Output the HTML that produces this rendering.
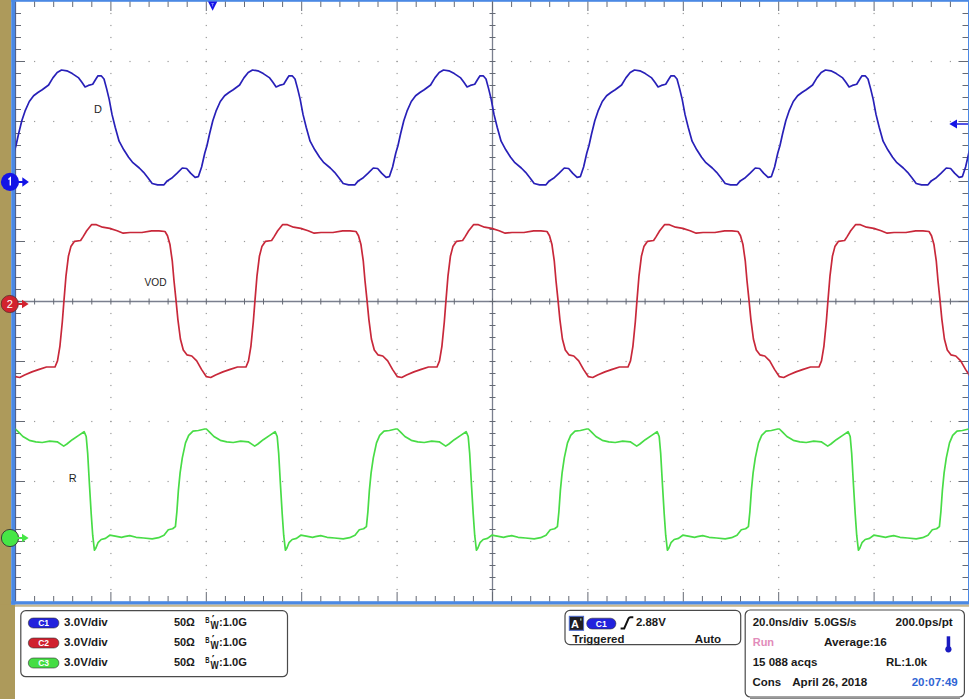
<!DOCTYPE html>
<html><head><meta charset="utf-8"><style>
html,body{margin:0;padding:0;background:#fff;}
body{width:969px;height:699px;overflow:hidden;position:relative;font-family:"Liberation Sans",sans-serif;}
svg{position:absolute;left:0;top:0;}
</style></head><body>
<svg width="969" height="699" viewBox="0 0 969 699">
<rect x="0" y="0" width="969" height="699" fill="#fff"/>
<!-- left olive bar -->
<rect x="0" y="0" width="11.2" height="699" fill="#ad9a5b"/>
<rect x="0" y="604.6" width="15" height="95" fill="#ad9a5b"/>
<!-- borders -->
<rect x="11.2" y="0" width="4.3" height="604.6" fill="#4b89e4"/>
<rect x="11.2" y="0" width="958" height="1.8" fill="#4b89e4"/>
<rect x="11.2" y="601.2" width="958" height="3.5" fill="#4b89e4"/>
<rect x="15" y="604.6" width="954" height="2.2" fill="#c8b890"/>
<rect x="968" y="0" width="2" height="604" fill="#4b89e4"/>
<!-- grid -->
<g fill="#9a9a9a"><rect x="110.3" y="12.9" width="1.2" height="1.2"/><rect x="110.3" y="24.9" width="1.2" height="1.2"/><rect x="110.3" y="36.9" width="1.2" height="1.2"/><rect x="110.3" y="48.9" width="1.2" height="1.2"/><rect x="110.3" y="60.9" width="1.2" height="1.2"/><rect x="110.3" y="72.9" width="1.2" height="1.2"/><rect x="110.3" y="84.9" width="1.2" height="1.2"/><rect x="110.3" y="96.9" width="1.2" height="1.2"/><rect x="110.3" y="108.9" width="1.2" height="1.2"/><rect x="110.3" y="120.9" width="1.2" height="1.2"/><rect x="110.3" y="132.9" width="1.2" height="1.2"/><rect x="110.3" y="144.9" width="1.2" height="1.2"/><rect x="110.3" y="156.9" width="1.2" height="1.2"/><rect x="110.3" y="168.9" width="1.2" height="1.2"/><rect x="110.3" y="180.9" width="1.2" height="1.2"/><rect x="110.3" y="192.9" width="1.2" height="1.2"/><rect x="110.3" y="204.9" width="1.2" height="1.2"/><rect x="110.3" y="216.9" width="1.2" height="1.2"/><rect x="110.3" y="228.9" width="1.2" height="1.2"/><rect x="110.3" y="240.9" width="1.2" height="1.2"/><rect x="110.3" y="252.9" width="1.2" height="1.2"/><rect x="110.3" y="264.9" width="1.2" height="1.2"/><rect x="110.3" y="276.9" width="1.2" height="1.2"/><rect x="110.3" y="288.9" width="1.2" height="1.2"/><rect x="110.3" y="300.9" width="1.2" height="1.2"/><rect x="110.3" y="312.9" width="1.2" height="1.2"/><rect x="110.3" y="324.9" width="1.2" height="1.2"/><rect x="110.3" y="336.9" width="1.2" height="1.2"/><rect x="110.3" y="348.9" width="1.2" height="1.2"/><rect x="110.3" y="360.9" width="1.2" height="1.2"/><rect x="110.3" y="372.9" width="1.2" height="1.2"/><rect x="110.3" y="384.9" width="1.2" height="1.2"/><rect x="110.3" y="396.9" width="1.2" height="1.2"/><rect x="110.3" y="408.9" width="1.2" height="1.2"/><rect x="110.3" y="420.9" width="1.2" height="1.2"/><rect x="110.3" y="432.9" width="1.2" height="1.2"/><rect x="110.3" y="444.9" width="1.2" height="1.2"/><rect x="110.3" y="456.9" width="1.2" height="1.2"/><rect x="110.3" y="468.9" width="1.2" height="1.2"/><rect x="110.3" y="480.9" width="1.2" height="1.2"/><rect x="110.3" y="492.9" width="1.2" height="1.2"/><rect x="110.3" y="504.9" width="1.2" height="1.2"/><rect x="110.3" y="516.9" width="1.2" height="1.2"/><rect x="110.3" y="528.9" width="1.2" height="1.2"/><rect x="110.3" y="540.9" width="1.2" height="1.2"/><rect x="110.3" y="552.9" width="1.2" height="1.2"/><rect x="110.3" y="564.9" width="1.2" height="1.2"/><rect x="110.3" y="576.9" width="1.2" height="1.2"/><rect x="110.3" y="588.9" width="1.2" height="1.2"/><rect x="205.7" y="12.9" width="1.2" height="1.2"/><rect x="205.7" y="24.9" width="1.2" height="1.2"/><rect x="205.7" y="36.9" width="1.2" height="1.2"/><rect x="205.7" y="48.9" width="1.2" height="1.2"/><rect x="205.7" y="60.9" width="1.2" height="1.2"/><rect x="205.7" y="72.9" width="1.2" height="1.2"/><rect x="205.7" y="84.9" width="1.2" height="1.2"/><rect x="205.7" y="96.9" width="1.2" height="1.2"/><rect x="205.7" y="108.9" width="1.2" height="1.2"/><rect x="205.7" y="120.9" width="1.2" height="1.2"/><rect x="205.7" y="132.9" width="1.2" height="1.2"/><rect x="205.7" y="144.9" width="1.2" height="1.2"/><rect x="205.7" y="156.9" width="1.2" height="1.2"/><rect x="205.7" y="168.9" width="1.2" height="1.2"/><rect x="205.7" y="180.9" width="1.2" height="1.2"/><rect x="205.7" y="192.9" width="1.2" height="1.2"/><rect x="205.7" y="204.9" width="1.2" height="1.2"/><rect x="205.7" y="216.9" width="1.2" height="1.2"/><rect x="205.7" y="228.9" width="1.2" height="1.2"/><rect x="205.7" y="240.9" width="1.2" height="1.2"/><rect x="205.7" y="252.9" width="1.2" height="1.2"/><rect x="205.7" y="264.9" width="1.2" height="1.2"/><rect x="205.7" y="276.9" width="1.2" height="1.2"/><rect x="205.7" y="288.9" width="1.2" height="1.2"/><rect x="205.7" y="300.9" width="1.2" height="1.2"/><rect x="205.7" y="312.9" width="1.2" height="1.2"/><rect x="205.7" y="324.9" width="1.2" height="1.2"/><rect x="205.7" y="336.9" width="1.2" height="1.2"/><rect x="205.7" y="348.9" width="1.2" height="1.2"/><rect x="205.7" y="360.9" width="1.2" height="1.2"/><rect x="205.7" y="372.9" width="1.2" height="1.2"/><rect x="205.7" y="384.9" width="1.2" height="1.2"/><rect x="205.7" y="396.9" width="1.2" height="1.2"/><rect x="205.7" y="408.9" width="1.2" height="1.2"/><rect x="205.7" y="420.9" width="1.2" height="1.2"/><rect x="205.7" y="432.9" width="1.2" height="1.2"/><rect x="205.7" y="444.9" width="1.2" height="1.2"/><rect x="205.7" y="456.9" width="1.2" height="1.2"/><rect x="205.7" y="468.9" width="1.2" height="1.2"/><rect x="205.7" y="480.9" width="1.2" height="1.2"/><rect x="205.7" y="492.9" width="1.2" height="1.2"/><rect x="205.7" y="504.9" width="1.2" height="1.2"/><rect x="205.7" y="516.9" width="1.2" height="1.2"/><rect x="205.7" y="528.9" width="1.2" height="1.2"/><rect x="205.7" y="540.9" width="1.2" height="1.2"/><rect x="205.7" y="552.9" width="1.2" height="1.2"/><rect x="205.7" y="564.9" width="1.2" height="1.2"/><rect x="205.7" y="576.9" width="1.2" height="1.2"/><rect x="205.7" y="588.9" width="1.2" height="1.2"/><rect x="301.1" y="12.9" width="1.2" height="1.2"/><rect x="301.1" y="24.9" width="1.2" height="1.2"/><rect x="301.1" y="36.9" width="1.2" height="1.2"/><rect x="301.1" y="48.9" width="1.2" height="1.2"/><rect x="301.1" y="60.9" width="1.2" height="1.2"/><rect x="301.1" y="72.9" width="1.2" height="1.2"/><rect x="301.1" y="84.9" width="1.2" height="1.2"/><rect x="301.1" y="96.9" width="1.2" height="1.2"/><rect x="301.1" y="108.9" width="1.2" height="1.2"/><rect x="301.1" y="120.9" width="1.2" height="1.2"/><rect x="301.1" y="132.9" width="1.2" height="1.2"/><rect x="301.1" y="144.9" width="1.2" height="1.2"/><rect x="301.1" y="156.9" width="1.2" height="1.2"/><rect x="301.1" y="168.9" width="1.2" height="1.2"/><rect x="301.1" y="180.9" width="1.2" height="1.2"/><rect x="301.1" y="192.9" width="1.2" height="1.2"/><rect x="301.1" y="204.9" width="1.2" height="1.2"/><rect x="301.1" y="216.9" width="1.2" height="1.2"/><rect x="301.1" y="228.9" width="1.2" height="1.2"/><rect x="301.1" y="240.9" width="1.2" height="1.2"/><rect x="301.1" y="252.9" width="1.2" height="1.2"/><rect x="301.1" y="264.9" width="1.2" height="1.2"/><rect x="301.1" y="276.9" width="1.2" height="1.2"/><rect x="301.1" y="288.9" width="1.2" height="1.2"/><rect x="301.1" y="300.9" width="1.2" height="1.2"/><rect x="301.1" y="312.9" width="1.2" height="1.2"/><rect x="301.1" y="324.9" width="1.2" height="1.2"/><rect x="301.1" y="336.9" width="1.2" height="1.2"/><rect x="301.1" y="348.9" width="1.2" height="1.2"/><rect x="301.1" y="360.9" width="1.2" height="1.2"/><rect x="301.1" y="372.9" width="1.2" height="1.2"/><rect x="301.1" y="384.9" width="1.2" height="1.2"/><rect x="301.1" y="396.9" width="1.2" height="1.2"/><rect x="301.1" y="408.9" width="1.2" height="1.2"/><rect x="301.1" y="420.9" width="1.2" height="1.2"/><rect x="301.1" y="432.9" width="1.2" height="1.2"/><rect x="301.1" y="444.9" width="1.2" height="1.2"/><rect x="301.1" y="456.9" width="1.2" height="1.2"/><rect x="301.1" y="468.9" width="1.2" height="1.2"/><rect x="301.1" y="480.9" width="1.2" height="1.2"/><rect x="301.1" y="492.9" width="1.2" height="1.2"/><rect x="301.1" y="504.9" width="1.2" height="1.2"/><rect x="301.1" y="516.9" width="1.2" height="1.2"/><rect x="301.1" y="528.9" width="1.2" height="1.2"/><rect x="301.1" y="540.9" width="1.2" height="1.2"/><rect x="301.1" y="552.9" width="1.2" height="1.2"/><rect x="301.1" y="564.9" width="1.2" height="1.2"/><rect x="301.1" y="576.9" width="1.2" height="1.2"/><rect x="301.1" y="588.9" width="1.2" height="1.2"/><rect x="396.5" y="12.9" width="1.2" height="1.2"/><rect x="396.5" y="24.9" width="1.2" height="1.2"/><rect x="396.5" y="36.9" width="1.2" height="1.2"/><rect x="396.5" y="48.9" width="1.2" height="1.2"/><rect x="396.5" y="60.9" width="1.2" height="1.2"/><rect x="396.5" y="72.9" width="1.2" height="1.2"/><rect x="396.5" y="84.9" width="1.2" height="1.2"/><rect x="396.5" y="96.9" width="1.2" height="1.2"/><rect x="396.5" y="108.9" width="1.2" height="1.2"/><rect x="396.5" y="120.9" width="1.2" height="1.2"/><rect x="396.5" y="132.9" width="1.2" height="1.2"/><rect x="396.5" y="144.9" width="1.2" height="1.2"/><rect x="396.5" y="156.9" width="1.2" height="1.2"/><rect x="396.5" y="168.9" width="1.2" height="1.2"/><rect x="396.5" y="180.9" width="1.2" height="1.2"/><rect x="396.5" y="192.9" width="1.2" height="1.2"/><rect x="396.5" y="204.9" width="1.2" height="1.2"/><rect x="396.5" y="216.9" width="1.2" height="1.2"/><rect x="396.5" y="228.9" width="1.2" height="1.2"/><rect x="396.5" y="240.9" width="1.2" height="1.2"/><rect x="396.5" y="252.9" width="1.2" height="1.2"/><rect x="396.5" y="264.9" width="1.2" height="1.2"/><rect x="396.5" y="276.9" width="1.2" height="1.2"/><rect x="396.5" y="288.9" width="1.2" height="1.2"/><rect x="396.5" y="300.9" width="1.2" height="1.2"/><rect x="396.5" y="312.9" width="1.2" height="1.2"/><rect x="396.5" y="324.9" width="1.2" height="1.2"/><rect x="396.5" y="336.9" width="1.2" height="1.2"/><rect x="396.5" y="348.9" width="1.2" height="1.2"/><rect x="396.5" y="360.9" width="1.2" height="1.2"/><rect x="396.5" y="372.9" width="1.2" height="1.2"/><rect x="396.5" y="384.9" width="1.2" height="1.2"/><rect x="396.5" y="396.9" width="1.2" height="1.2"/><rect x="396.5" y="408.9" width="1.2" height="1.2"/><rect x="396.5" y="420.9" width="1.2" height="1.2"/><rect x="396.5" y="432.9" width="1.2" height="1.2"/><rect x="396.5" y="444.9" width="1.2" height="1.2"/><rect x="396.5" y="456.9" width="1.2" height="1.2"/><rect x="396.5" y="468.9" width="1.2" height="1.2"/><rect x="396.5" y="480.9" width="1.2" height="1.2"/><rect x="396.5" y="492.9" width="1.2" height="1.2"/><rect x="396.5" y="504.9" width="1.2" height="1.2"/><rect x="396.5" y="516.9" width="1.2" height="1.2"/><rect x="396.5" y="528.9" width="1.2" height="1.2"/><rect x="396.5" y="540.9" width="1.2" height="1.2"/><rect x="396.5" y="552.9" width="1.2" height="1.2"/><rect x="396.5" y="564.9" width="1.2" height="1.2"/><rect x="396.5" y="576.9" width="1.2" height="1.2"/><rect x="396.5" y="588.9" width="1.2" height="1.2"/><rect x="587.3" y="12.9" width="1.2" height="1.2"/><rect x="587.3" y="24.9" width="1.2" height="1.2"/><rect x="587.3" y="36.9" width="1.2" height="1.2"/><rect x="587.3" y="48.9" width="1.2" height="1.2"/><rect x="587.3" y="60.9" width="1.2" height="1.2"/><rect x="587.3" y="72.9" width="1.2" height="1.2"/><rect x="587.3" y="84.9" width="1.2" height="1.2"/><rect x="587.3" y="96.9" width="1.2" height="1.2"/><rect x="587.3" y="108.9" width="1.2" height="1.2"/><rect x="587.3" y="120.9" width="1.2" height="1.2"/><rect x="587.3" y="132.9" width="1.2" height="1.2"/><rect x="587.3" y="144.9" width="1.2" height="1.2"/><rect x="587.3" y="156.9" width="1.2" height="1.2"/><rect x="587.3" y="168.9" width="1.2" height="1.2"/><rect x="587.3" y="180.9" width="1.2" height="1.2"/><rect x="587.3" y="192.9" width="1.2" height="1.2"/><rect x="587.3" y="204.9" width="1.2" height="1.2"/><rect x="587.3" y="216.9" width="1.2" height="1.2"/><rect x="587.3" y="228.9" width="1.2" height="1.2"/><rect x="587.3" y="240.9" width="1.2" height="1.2"/><rect x="587.3" y="252.9" width="1.2" height="1.2"/><rect x="587.3" y="264.9" width="1.2" height="1.2"/><rect x="587.3" y="276.9" width="1.2" height="1.2"/><rect x="587.3" y="288.9" width="1.2" height="1.2"/><rect x="587.3" y="300.9" width="1.2" height="1.2"/><rect x="587.3" y="312.9" width="1.2" height="1.2"/><rect x="587.3" y="324.9" width="1.2" height="1.2"/><rect x="587.3" y="336.9" width="1.2" height="1.2"/><rect x="587.3" y="348.9" width="1.2" height="1.2"/><rect x="587.3" y="360.9" width="1.2" height="1.2"/><rect x="587.3" y="372.9" width="1.2" height="1.2"/><rect x="587.3" y="384.9" width="1.2" height="1.2"/><rect x="587.3" y="396.9" width="1.2" height="1.2"/><rect x="587.3" y="408.9" width="1.2" height="1.2"/><rect x="587.3" y="420.9" width="1.2" height="1.2"/><rect x="587.3" y="432.9" width="1.2" height="1.2"/><rect x="587.3" y="444.9" width="1.2" height="1.2"/><rect x="587.3" y="456.9" width="1.2" height="1.2"/><rect x="587.3" y="468.9" width="1.2" height="1.2"/><rect x="587.3" y="480.9" width="1.2" height="1.2"/><rect x="587.3" y="492.9" width="1.2" height="1.2"/><rect x="587.3" y="504.9" width="1.2" height="1.2"/><rect x="587.3" y="516.9" width="1.2" height="1.2"/><rect x="587.3" y="528.9" width="1.2" height="1.2"/><rect x="587.3" y="540.9" width="1.2" height="1.2"/><rect x="587.3" y="552.9" width="1.2" height="1.2"/><rect x="587.3" y="564.9" width="1.2" height="1.2"/><rect x="587.3" y="576.9" width="1.2" height="1.2"/><rect x="587.3" y="588.9" width="1.2" height="1.2"/><rect x="682.7" y="12.9" width="1.2" height="1.2"/><rect x="682.7" y="24.9" width="1.2" height="1.2"/><rect x="682.7" y="36.9" width="1.2" height="1.2"/><rect x="682.7" y="48.9" width="1.2" height="1.2"/><rect x="682.7" y="60.9" width="1.2" height="1.2"/><rect x="682.7" y="72.9" width="1.2" height="1.2"/><rect x="682.7" y="84.9" width="1.2" height="1.2"/><rect x="682.7" y="96.9" width="1.2" height="1.2"/><rect x="682.7" y="108.9" width="1.2" height="1.2"/><rect x="682.7" y="120.9" width="1.2" height="1.2"/><rect x="682.7" y="132.9" width="1.2" height="1.2"/><rect x="682.7" y="144.9" width="1.2" height="1.2"/><rect x="682.7" y="156.9" width="1.2" height="1.2"/><rect x="682.7" y="168.9" width="1.2" height="1.2"/><rect x="682.7" y="180.9" width="1.2" height="1.2"/><rect x="682.7" y="192.9" width="1.2" height="1.2"/><rect x="682.7" y="204.9" width="1.2" height="1.2"/><rect x="682.7" y="216.9" width="1.2" height="1.2"/><rect x="682.7" y="228.9" width="1.2" height="1.2"/><rect x="682.7" y="240.9" width="1.2" height="1.2"/><rect x="682.7" y="252.9" width="1.2" height="1.2"/><rect x="682.7" y="264.9" width="1.2" height="1.2"/><rect x="682.7" y="276.9" width="1.2" height="1.2"/><rect x="682.7" y="288.9" width="1.2" height="1.2"/><rect x="682.7" y="300.9" width="1.2" height="1.2"/><rect x="682.7" y="312.9" width="1.2" height="1.2"/><rect x="682.7" y="324.9" width="1.2" height="1.2"/><rect x="682.7" y="336.9" width="1.2" height="1.2"/><rect x="682.7" y="348.9" width="1.2" height="1.2"/><rect x="682.7" y="360.9" width="1.2" height="1.2"/><rect x="682.7" y="372.9" width="1.2" height="1.2"/><rect x="682.7" y="384.9" width="1.2" height="1.2"/><rect x="682.7" y="396.9" width="1.2" height="1.2"/><rect x="682.7" y="408.9" width="1.2" height="1.2"/><rect x="682.7" y="420.9" width="1.2" height="1.2"/><rect x="682.7" y="432.9" width="1.2" height="1.2"/><rect x="682.7" y="444.9" width="1.2" height="1.2"/><rect x="682.7" y="456.9" width="1.2" height="1.2"/><rect x="682.7" y="468.9" width="1.2" height="1.2"/><rect x="682.7" y="480.9" width="1.2" height="1.2"/><rect x="682.7" y="492.9" width="1.2" height="1.2"/><rect x="682.7" y="504.9" width="1.2" height="1.2"/><rect x="682.7" y="516.9" width="1.2" height="1.2"/><rect x="682.7" y="528.9" width="1.2" height="1.2"/><rect x="682.7" y="540.9" width="1.2" height="1.2"/><rect x="682.7" y="552.9" width="1.2" height="1.2"/><rect x="682.7" y="564.9" width="1.2" height="1.2"/><rect x="682.7" y="576.9" width="1.2" height="1.2"/><rect x="682.7" y="588.9" width="1.2" height="1.2"/><rect x="778.1" y="12.9" width="1.2" height="1.2"/><rect x="778.1" y="24.9" width="1.2" height="1.2"/><rect x="778.1" y="36.9" width="1.2" height="1.2"/><rect x="778.1" y="48.9" width="1.2" height="1.2"/><rect x="778.1" y="60.9" width="1.2" height="1.2"/><rect x="778.1" y="72.9" width="1.2" height="1.2"/><rect x="778.1" y="84.9" width="1.2" height="1.2"/><rect x="778.1" y="96.9" width="1.2" height="1.2"/><rect x="778.1" y="108.9" width="1.2" height="1.2"/><rect x="778.1" y="120.9" width="1.2" height="1.2"/><rect x="778.1" y="132.9" width="1.2" height="1.2"/><rect x="778.1" y="144.9" width="1.2" height="1.2"/><rect x="778.1" y="156.9" width="1.2" height="1.2"/><rect x="778.1" y="168.9" width="1.2" height="1.2"/><rect x="778.1" y="180.9" width="1.2" height="1.2"/><rect x="778.1" y="192.9" width="1.2" height="1.2"/><rect x="778.1" y="204.9" width="1.2" height="1.2"/><rect x="778.1" y="216.9" width="1.2" height="1.2"/><rect x="778.1" y="228.9" width="1.2" height="1.2"/><rect x="778.1" y="240.9" width="1.2" height="1.2"/><rect x="778.1" y="252.9" width="1.2" height="1.2"/><rect x="778.1" y="264.9" width="1.2" height="1.2"/><rect x="778.1" y="276.9" width="1.2" height="1.2"/><rect x="778.1" y="288.9" width="1.2" height="1.2"/><rect x="778.1" y="300.9" width="1.2" height="1.2"/><rect x="778.1" y="312.9" width="1.2" height="1.2"/><rect x="778.1" y="324.9" width="1.2" height="1.2"/><rect x="778.1" y="336.9" width="1.2" height="1.2"/><rect x="778.1" y="348.9" width="1.2" height="1.2"/><rect x="778.1" y="360.9" width="1.2" height="1.2"/><rect x="778.1" y="372.9" width="1.2" height="1.2"/><rect x="778.1" y="384.9" width="1.2" height="1.2"/><rect x="778.1" y="396.9" width="1.2" height="1.2"/><rect x="778.1" y="408.9" width="1.2" height="1.2"/><rect x="778.1" y="420.9" width="1.2" height="1.2"/><rect x="778.1" y="432.9" width="1.2" height="1.2"/><rect x="778.1" y="444.9" width="1.2" height="1.2"/><rect x="778.1" y="456.9" width="1.2" height="1.2"/><rect x="778.1" y="468.9" width="1.2" height="1.2"/><rect x="778.1" y="480.9" width="1.2" height="1.2"/><rect x="778.1" y="492.9" width="1.2" height="1.2"/><rect x="778.1" y="504.9" width="1.2" height="1.2"/><rect x="778.1" y="516.9" width="1.2" height="1.2"/><rect x="778.1" y="528.9" width="1.2" height="1.2"/><rect x="778.1" y="540.9" width="1.2" height="1.2"/><rect x="778.1" y="552.9" width="1.2" height="1.2"/><rect x="778.1" y="564.9" width="1.2" height="1.2"/><rect x="778.1" y="576.9" width="1.2" height="1.2"/><rect x="778.1" y="588.9" width="1.2" height="1.2"/><rect x="873.5" y="12.9" width="1.2" height="1.2"/><rect x="873.5" y="24.9" width="1.2" height="1.2"/><rect x="873.5" y="36.9" width="1.2" height="1.2"/><rect x="873.5" y="48.9" width="1.2" height="1.2"/><rect x="873.5" y="60.9" width="1.2" height="1.2"/><rect x="873.5" y="72.9" width="1.2" height="1.2"/><rect x="873.5" y="84.9" width="1.2" height="1.2"/><rect x="873.5" y="96.9" width="1.2" height="1.2"/><rect x="873.5" y="108.9" width="1.2" height="1.2"/><rect x="873.5" y="120.9" width="1.2" height="1.2"/><rect x="873.5" y="132.9" width="1.2" height="1.2"/><rect x="873.5" y="144.9" width="1.2" height="1.2"/><rect x="873.5" y="156.9" width="1.2" height="1.2"/><rect x="873.5" y="168.9" width="1.2" height="1.2"/><rect x="873.5" y="180.9" width="1.2" height="1.2"/><rect x="873.5" y="192.9" width="1.2" height="1.2"/><rect x="873.5" y="204.9" width="1.2" height="1.2"/><rect x="873.5" y="216.9" width="1.2" height="1.2"/><rect x="873.5" y="228.9" width="1.2" height="1.2"/><rect x="873.5" y="240.9" width="1.2" height="1.2"/><rect x="873.5" y="252.9" width="1.2" height="1.2"/><rect x="873.5" y="264.9" width="1.2" height="1.2"/><rect x="873.5" y="276.9" width="1.2" height="1.2"/><rect x="873.5" y="288.9" width="1.2" height="1.2"/><rect x="873.5" y="300.9" width="1.2" height="1.2"/><rect x="873.5" y="312.9" width="1.2" height="1.2"/><rect x="873.5" y="324.9" width="1.2" height="1.2"/><rect x="873.5" y="336.9" width="1.2" height="1.2"/><rect x="873.5" y="348.9" width="1.2" height="1.2"/><rect x="873.5" y="360.9" width="1.2" height="1.2"/><rect x="873.5" y="372.9" width="1.2" height="1.2"/><rect x="873.5" y="384.9" width="1.2" height="1.2"/><rect x="873.5" y="396.9" width="1.2" height="1.2"/><rect x="873.5" y="408.9" width="1.2" height="1.2"/><rect x="873.5" y="420.9" width="1.2" height="1.2"/><rect x="873.5" y="432.9" width="1.2" height="1.2"/><rect x="873.5" y="444.9" width="1.2" height="1.2"/><rect x="873.5" y="456.9" width="1.2" height="1.2"/><rect x="873.5" y="468.9" width="1.2" height="1.2"/><rect x="873.5" y="480.9" width="1.2" height="1.2"/><rect x="873.5" y="492.9" width="1.2" height="1.2"/><rect x="873.5" y="504.9" width="1.2" height="1.2"/><rect x="873.5" y="516.9" width="1.2" height="1.2"/><rect x="873.5" y="528.9" width="1.2" height="1.2"/><rect x="873.5" y="540.9" width="1.2" height="1.2"/><rect x="873.5" y="552.9" width="1.2" height="1.2"/><rect x="873.5" y="564.9" width="1.2" height="1.2"/><rect x="873.5" y="576.9" width="1.2" height="1.2"/><rect x="873.5" y="588.9" width="1.2" height="1.2"/><rect x="34.0" y="60.9" width="1.2" height="1.2"/><rect x="53.1" y="60.9" width="1.2" height="1.2"/><rect x="72.1" y="60.9" width="1.2" height="1.2"/><rect x="91.2" y="60.9" width="1.2" height="1.2"/><rect x="110.3" y="60.9" width="1.2" height="1.2"/><rect x="129.4" y="60.9" width="1.2" height="1.2"/><rect x="148.5" y="60.9" width="1.2" height="1.2"/><rect x="167.5" y="60.9" width="1.2" height="1.2"/><rect x="186.6" y="60.9" width="1.2" height="1.2"/><rect x="205.7" y="60.9" width="1.2" height="1.2"/><rect x="224.8" y="60.9" width="1.2" height="1.2"/><rect x="243.9" y="60.9" width="1.2" height="1.2"/><rect x="262.9" y="60.9" width="1.2" height="1.2"/><rect x="282.0" y="60.9" width="1.2" height="1.2"/><rect x="301.1" y="60.9" width="1.2" height="1.2"/><rect x="320.2" y="60.9" width="1.2" height="1.2"/><rect x="339.3" y="60.9" width="1.2" height="1.2"/><rect x="358.3" y="60.9" width="1.2" height="1.2"/><rect x="377.4" y="60.9" width="1.2" height="1.2"/><rect x="396.5" y="60.9" width="1.2" height="1.2"/><rect x="415.6" y="60.9" width="1.2" height="1.2"/><rect x="434.7" y="60.9" width="1.2" height="1.2"/><rect x="453.7" y="60.9" width="1.2" height="1.2"/><rect x="472.8" y="60.9" width="1.2" height="1.2"/><rect x="491.9" y="60.9" width="1.2" height="1.2"/><rect x="511.0" y="60.9" width="1.2" height="1.2"/><rect x="530.1" y="60.9" width="1.2" height="1.2"/><rect x="549.1" y="60.9" width="1.2" height="1.2"/><rect x="568.2" y="60.9" width="1.2" height="1.2"/><rect x="587.3" y="60.9" width="1.2" height="1.2"/><rect x="606.4" y="60.9" width="1.2" height="1.2"/><rect x="625.5" y="60.9" width="1.2" height="1.2"/><rect x="644.5" y="60.9" width="1.2" height="1.2"/><rect x="663.6" y="60.9" width="1.2" height="1.2"/><rect x="682.7" y="60.9" width="1.2" height="1.2"/><rect x="701.8" y="60.9" width="1.2" height="1.2"/><rect x="720.9" y="60.9" width="1.2" height="1.2"/><rect x="739.9" y="60.9" width="1.2" height="1.2"/><rect x="759.0" y="60.9" width="1.2" height="1.2"/><rect x="778.1" y="60.9" width="1.2" height="1.2"/><rect x="797.2" y="60.9" width="1.2" height="1.2"/><rect x="816.3" y="60.9" width="1.2" height="1.2"/><rect x="835.3" y="60.9" width="1.2" height="1.2"/><rect x="854.4" y="60.9" width="1.2" height="1.2"/><rect x="873.5" y="60.9" width="1.2" height="1.2"/><rect x="892.6" y="60.9" width="1.2" height="1.2"/><rect x="911.7" y="60.9" width="1.2" height="1.2"/><rect x="930.7" y="60.9" width="1.2" height="1.2"/><rect x="949.8" y="60.9" width="1.2" height="1.2"/><rect x="34.0" y="120.9" width="1.2" height="1.2"/><rect x="53.1" y="120.9" width="1.2" height="1.2"/><rect x="72.1" y="120.9" width="1.2" height="1.2"/><rect x="91.2" y="120.9" width="1.2" height="1.2"/><rect x="110.3" y="120.9" width="1.2" height="1.2"/><rect x="129.4" y="120.9" width="1.2" height="1.2"/><rect x="148.5" y="120.9" width="1.2" height="1.2"/><rect x="167.5" y="120.9" width="1.2" height="1.2"/><rect x="186.6" y="120.9" width="1.2" height="1.2"/><rect x="205.7" y="120.9" width="1.2" height="1.2"/><rect x="224.8" y="120.9" width="1.2" height="1.2"/><rect x="243.9" y="120.9" width="1.2" height="1.2"/><rect x="262.9" y="120.9" width="1.2" height="1.2"/><rect x="282.0" y="120.9" width="1.2" height="1.2"/><rect x="301.1" y="120.9" width="1.2" height="1.2"/><rect x="320.2" y="120.9" width="1.2" height="1.2"/><rect x="339.3" y="120.9" width="1.2" height="1.2"/><rect x="358.3" y="120.9" width="1.2" height="1.2"/><rect x="377.4" y="120.9" width="1.2" height="1.2"/><rect x="396.5" y="120.9" width="1.2" height="1.2"/><rect x="415.6" y="120.9" width="1.2" height="1.2"/><rect x="434.7" y="120.9" width="1.2" height="1.2"/><rect x="453.7" y="120.9" width="1.2" height="1.2"/><rect x="472.8" y="120.9" width="1.2" height="1.2"/><rect x="491.9" y="120.9" width="1.2" height="1.2"/><rect x="511.0" y="120.9" width="1.2" height="1.2"/><rect x="530.1" y="120.9" width="1.2" height="1.2"/><rect x="549.1" y="120.9" width="1.2" height="1.2"/><rect x="568.2" y="120.9" width="1.2" height="1.2"/><rect x="587.3" y="120.9" width="1.2" height="1.2"/><rect x="606.4" y="120.9" width="1.2" height="1.2"/><rect x="625.5" y="120.9" width="1.2" height="1.2"/><rect x="644.5" y="120.9" width="1.2" height="1.2"/><rect x="663.6" y="120.9" width="1.2" height="1.2"/><rect x="682.7" y="120.9" width="1.2" height="1.2"/><rect x="701.8" y="120.9" width="1.2" height="1.2"/><rect x="720.9" y="120.9" width="1.2" height="1.2"/><rect x="739.9" y="120.9" width="1.2" height="1.2"/><rect x="759.0" y="120.9" width="1.2" height="1.2"/><rect x="778.1" y="120.9" width="1.2" height="1.2"/><rect x="797.2" y="120.9" width="1.2" height="1.2"/><rect x="816.3" y="120.9" width="1.2" height="1.2"/><rect x="835.3" y="120.9" width="1.2" height="1.2"/><rect x="854.4" y="120.9" width="1.2" height="1.2"/><rect x="873.5" y="120.9" width="1.2" height="1.2"/><rect x="892.6" y="120.9" width="1.2" height="1.2"/><rect x="911.7" y="120.9" width="1.2" height="1.2"/><rect x="930.7" y="120.9" width="1.2" height="1.2"/><rect x="949.8" y="120.9" width="1.2" height="1.2"/><rect x="34.0" y="180.9" width="1.2" height="1.2"/><rect x="53.1" y="180.9" width="1.2" height="1.2"/><rect x="72.1" y="180.9" width="1.2" height="1.2"/><rect x="91.2" y="180.9" width="1.2" height="1.2"/><rect x="110.3" y="180.9" width="1.2" height="1.2"/><rect x="129.4" y="180.9" width="1.2" height="1.2"/><rect x="148.5" y="180.9" width="1.2" height="1.2"/><rect x="167.5" y="180.9" width="1.2" height="1.2"/><rect x="186.6" y="180.9" width="1.2" height="1.2"/><rect x="205.7" y="180.9" width="1.2" height="1.2"/><rect x="224.8" y="180.9" width="1.2" height="1.2"/><rect x="243.9" y="180.9" width="1.2" height="1.2"/><rect x="262.9" y="180.9" width="1.2" height="1.2"/><rect x="282.0" y="180.9" width="1.2" height="1.2"/><rect x="301.1" y="180.9" width="1.2" height="1.2"/><rect x="320.2" y="180.9" width="1.2" height="1.2"/><rect x="339.3" y="180.9" width="1.2" height="1.2"/><rect x="358.3" y="180.9" width="1.2" height="1.2"/><rect x="377.4" y="180.9" width="1.2" height="1.2"/><rect x="396.5" y="180.9" width="1.2" height="1.2"/><rect x="415.6" y="180.9" width="1.2" height="1.2"/><rect x="434.7" y="180.9" width="1.2" height="1.2"/><rect x="453.7" y="180.9" width="1.2" height="1.2"/><rect x="472.8" y="180.9" width="1.2" height="1.2"/><rect x="491.9" y="180.9" width="1.2" height="1.2"/><rect x="511.0" y="180.9" width="1.2" height="1.2"/><rect x="530.1" y="180.9" width="1.2" height="1.2"/><rect x="549.1" y="180.9" width="1.2" height="1.2"/><rect x="568.2" y="180.9" width="1.2" height="1.2"/><rect x="587.3" y="180.9" width="1.2" height="1.2"/><rect x="606.4" y="180.9" width="1.2" height="1.2"/><rect x="625.5" y="180.9" width="1.2" height="1.2"/><rect x="644.5" y="180.9" width="1.2" height="1.2"/><rect x="663.6" y="180.9" width="1.2" height="1.2"/><rect x="682.7" y="180.9" width="1.2" height="1.2"/><rect x="701.8" y="180.9" width="1.2" height="1.2"/><rect x="720.9" y="180.9" width="1.2" height="1.2"/><rect x="739.9" y="180.9" width="1.2" height="1.2"/><rect x="759.0" y="180.9" width="1.2" height="1.2"/><rect x="778.1" y="180.9" width="1.2" height="1.2"/><rect x="797.2" y="180.9" width="1.2" height="1.2"/><rect x="816.3" y="180.9" width="1.2" height="1.2"/><rect x="835.3" y="180.9" width="1.2" height="1.2"/><rect x="854.4" y="180.9" width="1.2" height="1.2"/><rect x="873.5" y="180.9" width="1.2" height="1.2"/><rect x="892.6" y="180.9" width="1.2" height="1.2"/><rect x="911.7" y="180.9" width="1.2" height="1.2"/><rect x="930.7" y="180.9" width="1.2" height="1.2"/><rect x="949.8" y="180.9" width="1.2" height="1.2"/><rect x="34.0" y="240.9" width="1.2" height="1.2"/><rect x="53.1" y="240.9" width="1.2" height="1.2"/><rect x="72.1" y="240.9" width="1.2" height="1.2"/><rect x="91.2" y="240.9" width="1.2" height="1.2"/><rect x="110.3" y="240.9" width="1.2" height="1.2"/><rect x="129.4" y="240.9" width="1.2" height="1.2"/><rect x="148.5" y="240.9" width="1.2" height="1.2"/><rect x="167.5" y="240.9" width="1.2" height="1.2"/><rect x="186.6" y="240.9" width="1.2" height="1.2"/><rect x="205.7" y="240.9" width="1.2" height="1.2"/><rect x="224.8" y="240.9" width="1.2" height="1.2"/><rect x="243.9" y="240.9" width="1.2" height="1.2"/><rect x="262.9" y="240.9" width="1.2" height="1.2"/><rect x="282.0" y="240.9" width="1.2" height="1.2"/><rect x="301.1" y="240.9" width="1.2" height="1.2"/><rect x="320.2" y="240.9" width="1.2" height="1.2"/><rect x="339.3" y="240.9" width="1.2" height="1.2"/><rect x="358.3" y="240.9" width="1.2" height="1.2"/><rect x="377.4" y="240.9" width="1.2" height="1.2"/><rect x="396.5" y="240.9" width="1.2" height="1.2"/><rect x="415.6" y="240.9" width="1.2" height="1.2"/><rect x="434.7" y="240.9" width="1.2" height="1.2"/><rect x="453.7" y="240.9" width="1.2" height="1.2"/><rect x="472.8" y="240.9" width="1.2" height="1.2"/><rect x="491.9" y="240.9" width="1.2" height="1.2"/><rect x="511.0" y="240.9" width="1.2" height="1.2"/><rect x="530.1" y="240.9" width="1.2" height="1.2"/><rect x="549.1" y="240.9" width="1.2" height="1.2"/><rect x="568.2" y="240.9" width="1.2" height="1.2"/><rect x="587.3" y="240.9" width="1.2" height="1.2"/><rect x="606.4" y="240.9" width="1.2" height="1.2"/><rect x="625.5" y="240.9" width="1.2" height="1.2"/><rect x="644.5" y="240.9" width="1.2" height="1.2"/><rect x="663.6" y="240.9" width="1.2" height="1.2"/><rect x="682.7" y="240.9" width="1.2" height="1.2"/><rect x="701.8" y="240.9" width="1.2" height="1.2"/><rect x="720.9" y="240.9" width="1.2" height="1.2"/><rect x="739.9" y="240.9" width="1.2" height="1.2"/><rect x="759.0" y="240.9" width="1.2" height="1.2"/><rect x="778.1" y="240.9" width="1.2" height="1.2"/><rect x="797.2" y="240.9" width="1.2" height="1.2"/><rect x="816.3" y="240.9" width="1.2" height="1.2"/><rect x="835.3" y="240.9" width="1.2" height="1.2"/><rect x="854.4" y="240.9" width="1.2" height="1.2"/><rect x="873.5" y="240.9" width="1.2" height="1.2"/><rect x="892.6" y="240.9" width="1.2" height="1.2"/><rect x="911.7" y="240.9" width="1.2" height="1.2"/><rect x="930.7" y="240.9" width="1.2" height="1.2"/><rect x="949.8" y="240.9" width="1.2" height="1.2"/><rect x="34.0" y="360.9" width="1.2" height="1.2"/><rect x="53.1" y="360.9" width="1.2" height="1.2"/><rect x="72.1" y="360.9" width="1.2" height="1.2"/><rect x="91.2" y="360.9" width="1.2" height="1.2"/><rect x="110.3" y="360.9" width="1.2" height="1.2"/><rect x="129.4" y="360.9" width="1.2" height="1.2"/><rect x="148.5" y="360.9" width="1.2" height="1.2"/><rect x="167.5" y="360.9" width="1.2" height="1.2"/><rect x="186.6" y="360.9" width="1.2" height="1.2"/><rect x="205.7" y="360.9" width="1.2" height="1.2"/><rect x="224.8" y="360.9" width="1.2" height="1.2"/><rect x="243.9" y="360.9" width="1.2" height="1.2"/><rect x="262.9" y="360.9" width="1.2" height="1.2"/><rect x="282.0" y="360.9" width="1.2" height="1.2"/><rect x="301.1" y="360.9" width="1.2" height="1.2"/><rect x="320.2" y="360.9" width="1.2" height="1.2"/><rect x="339.3" y="360.9" width="1.2" height="1.2"/><rect x="358.3" y="360.9" width="1.2" height="1.2"/><rect x="377.4" y="360.9" width="1.2" height="1.2"/><rect x="396.5" y="360.9" width="1.2" height="1.2"/><rect x="415.6" y="360.9" width="1.2" height="1.2"/><rect x="434.7" y="360.9" width="1.2" height="1.2"/><rect x="453.7" y="360.9" width="1.2" height="1.2"/><rect x="472.8" y="360.9" width="1.2" height="1.2"/><rect x="491.9" y="360.9" width="1.2" height="1.2"/><rect x="511.0" y="360.9" width="1.2" height="1.2"/><rect x="530.1" y="360.9" width="1.2" height="1.2"/><rect x="549.1" y="360.9" width="1.2" height="1.2"/><rect x="568.2" y="360.9" width="1.2" height="1.2"/><rect x="587.3" y="360.9" width="1.2" height="1.2"/><rect x="606.4" y="360.9" width="1.2" height="1.2"/><rect x="625.5" y="360.9" width="1.2" height="1.2"/><rect x="644.5" y="360.9" width="1.2" height="1.2"/><rect x="663.6" y="360.9" width="1.2" height="1.2"/><rect x="682.7" y="360.9" width="1.2" height="1.2"/><rect x="701.8" y="360.9" width="1.2" height="1.2"/><rect x="720.9" y="360.9" width="1.2" height="1.2"/><rect x="739.9" y="360.9" width="1.2" height="1.2"/><rect x="759.0" y="360.9" width="1.2" height="1.2"/><rect x="778.1" y="360.9" width="1.2" height="1.2"/><rect x="797.2" y="360.9" width="1.2" height="1.2"/><rect x="816.3" y="360.9" width="1.2" height="1.2"/><rect x="835.3" y="360.9" width="1.2" height="1.2"/><rect x="854.4" y="360.9" width="1.2" height="1.2"/><rect x="873.5" y="360.9" width="1.2" height="1.2"/><rect x="892.6" y="360.9" width="1.2" height="1.2"/><rect x="911.7" y="360.9" width="1.2" height="1.2"/><rect x="930.7" y="360.9" width="1.2" height="1.2"/><rect x="949.8" y="360.9" width="1.2" height="1.2"/><rect x="34.0" y="420.9" width="1.2" height="1.2"/><rect x="53.1" y="420.9" width="1.2" height="1.2"/><rect x="72.1" y="420.9" width="1.2" height="1.2"/><rect x="91.2" y="420.9" width="1.2" height="1.2"/><rect x="110.3" y="420.9" width="1.2" height="1.2"/><rect x="129.4" y="420.9" width="1.2" height="1.2"/><rect x="148.5" y="420.9" width="1.2" height="1.2"/><rect x="167.5" y="420.9" width="1.2" height="1.2"/><rect x="186.6" y="420.9" width="1.2" height="1.2"/><rect x="205.7" y="420.9" width="1.2" height="1.2"/><rect x="224.8" y="420.9" width="1.2" height="1.2"/><rect x="243.9" y="420.9" width="1.2" height="1.2"/><rect x="262.9" y="420.9" width="1.2" height="1.2"/><rect x="282.0" y="420.9" width="1.2" height="1.2"/><rect x="301.1" y="420.9" width="1.2" height="1.2"/><rect x="320.2" y="420.9" width="1.2" height="1.2"/><rect x="339.3" y="420.9" width="1.2" height="1.2"/><rect x="358.3" y="420.9" width="1.2" height="1.2"/><rect x="377.4" y="420.9" width="1.2" height="1.2"/><rect x="396.5" y="420.9" width="1.2" height="1.2"/><rect x="415.6" y="420.9" width="1.2" height="1.2"/><rect x="434.7" y="420.9" width="1.2" height="1.2"/><rect x="453.7" y="420.9" width="1.2" height="1.2"/><rect x="472.8" y="420.9" width="1.2" height="1.2"/><rect x="491.9" y="420.9" width="1.2" height="1.2"/><rect x="511.0" y="420.9" width="1.2" height="1.2"/><rect x="530.1" y="420.9" width="1.2" height="1.2"/><rect x="549.1" y="420.9" width="1.2" height="1.2"/><rect x="568.2" y="420.9" width="1.2" height="1.2"/><rect x="587.3" y="420.9" width="1.2" height="1.2"/><rect x="606.4" y="420.9" width="1.2" height="1.2"/><rect x="625.5" y="420.9" width="1.2" height="1.2"/><rect x="644.5" y="420.9" width="1.2" height="1.2"/><rect x="663.6" y="420.9" width="1.2" height="1.2"/><rect x="682.7" y="420.9" width="1.2" height="1.2"/><rect x="701.8" y="420.9" width="1.2" height="1.2"/><rect x="720.9" y="420.9" width="1.2" height="1.2"/><rect x="739.9" y="420.9" width="1.2" height="1.2"/><rect x="759.0" y="420.9" width="1.2" height="1.2"/><rect x="778.1" y="420.9" width="1.2" height="1.2"/><rect x="797.2" y="420.9" width="1.2" height="1.2"/><rect x="816.3" y="420.9" width="1.2" height="1.2"/><rect x="835.3" y="420.9" width="1.2" height="1.2"/><rect x="854.4" y="420.9" width="1.2" height="1.2"/><rect x="873.5" y="420.9" width="1.2" height="1.2"/><rect x="892.6" y="420.9" width="1.2" height="1.2"/><rect x="911.7" y="420.9" width="1.2" height="1.2"/><rect x="930.7" y="420.9" width="1.2" height="1.2"/><rect x="949.8" y="420.9" width="1.2" height="1.2"/><rect x="34.0" y="480.9" width="1.2" height="1.2"/><rect x="53.1" y="480.9" width="1.2" height="1.2"/><rect x="72.1" y="480.9" width="1.2" height="1.2"/><rect x="91.2" y="480.9" width="1.2" height="1.2"/><rect x="110.3" y="480.9" width="1.2" height="1.2"/><rect x="129.4" y="480.9" width="1.2" height="1.2"/><rect x="148.5" y="480.9" width="1.2" height="1.2"/><rect x="167.5" y="480.9" width="1.2" height="1.2"/><rect x="186.6" y="480.9" width="1.2" height="1.2"/><rect x="205.7" y="480.9" width="1.2" height="1.2"/><rect x="224.8" y="480.9" width="1.2" height="1.2"/><rect x="243.9" y="480.9" width="1.2" height="1.2"/><rect x="262.9" y="480.9" width="1.2" height="1.2"/><rect x="282.0" y="480.9" width="1.2" height="1.2"/><rect x="301.1" y="480.9" width="1.2" height="1.2"/><rect x="320.2" y="480.9" width="1.2" height="1.2"/><rect x="339.3" y="480.9" width="1.2" height="1.2"/><rect x="358.3" y="480.9" width="1.2" height="1.2"/><rect x="377.4" y="480.9" width="1.2" height="1.2"/><rect x="396.5" y="480.9" width="1.2" height="1.2"/><rect x="415.6" y="480.9" width="1.2" height="1.2"/><rect x="434.7" y="480.9" width="1.2" height="1.2"/><rect x="453.7" y="480.9" width="1.2" height="1.2"/><rect x="472.8" y="480.9" width="1.2" height="1.2"/><rect x="491.9" y="480.9" width="1.2" height="1.2"/><rect x="511.0" y="480.9" width="1.2" height="1.2"/><rect x="530.1" y="480.9" width="1.2" height="1.2"/><rect x="549.1" y="480.9" width="1.2" height="1.2"/><rect x="568.2" y="480.9" width="1.2" height="1.2"/><rect x="587.3" y="480.9" width="1.2" height="1.2"/><rect x="606.4" y="480.9" width="1.2" height="1.2"/><rect x="625.5" y="480.9" width="1.2" height="1.2"/><rect x="644.5" y="480.9" width="1.2" height="1.2"/><rect x="663.6" y="480.9" width="1.2" height="1.2"/><rect x="682.7" y="480.9" width="1.2" height="1.2"/><rect x="701.8" y="480.9" width="1.2" height="1.2"/><rect x="720.9" y="480.9" width="1.2" height="1.2"/><rect x="739.9" y="480.9" width="1.2" height="1.2"/><rect x="759.0" y="480.9" width="1.2" height="1.2"/><rect x="778.1" y="480.9" width="1.2" height="1.2"/><rect x="797.2" y="480.9" width="1.2" height="1.2"/><rect x="816.3" y="480.9" width="1.2" height="1.2"/><rect x="835.3" y="480.9" width="1.2" height="1.2"/><rect x="854.4" y="480.9" width="1.2" height="1.2"/><rect x="873.5" y="480.9" width="1.2" height="1.2"/><rect x="892.6" y="480.9" width="1.2" height="1.2"/><rect x="911.7" y="480.9" width="1.2" height="1.2"/><rect x="930.7" y="480.9" width="1.2" height="1.2"/><rect x="949.8" y="480.9" width="1.2" height="1.2"/><rect x="34.0" y="540.9" width="1.2" height="1.2"/><rect x="53.1" y="540.9" width="1.2" height="1.2"/><rect x="72.1" y="540.9" width="1.2" height="1.2"/><rect x="91.2" y="540.9" width="1.2" height="1.2"/><rect x="110.3" y="540.9" width="1.2" height="1.2"/><rect x="129.4" y="540.9" width="1.2" height="1.2"/><rect x="148.5" y="540.9" width="1.2" height="1.2"/><rect x="167.5" y="540.9" width="1.2" height="1.2"/><rect x="186.6" y="540.9" width="1.2" height="1.2"/><rect x="205.7" y="540.9" width="1.2" height="1.2"/><rect x="224.8" y="540.9" width="1.2" height="1.2"/><rect x="243.9" y="540.9" width="1.2" height="1.2"/><rect x="262.9" y="540.9" width="1.2" height="1.2"/><rect x="282.0" y="540.9" width="1.2" height="1.2"/><rect x="301.1" y="540.9" width="1.2" height="1.2"/><rect x="320.2" y="540.9" width="1.2" height="1.2"/><rect x="339.3" y="540.9" width="1.2" height="1.2"/><rect x="358.3" y="540.9" width="1.2" height="1.2"/><rect x="377.4" y="540.9" width="1.2" height="1.2"/><rect x="396.5" y="540.9" width="1.2" height="1.2"/><rect x="415.6" y="540.9" width="1.2" height="1.2"/><rect x="434.7" y="540.9" width="1.2" height="1.2"/><rect x="453.7" y="540.9" width="1.2" height="1.2"/><rect x="472.8" y="540.9" width="1.2" height="1.2"/><rect x="491.9" y="540.9" width="1.2" height="1.2"/><rect x="511.0" y="540.9" width="1.2" height="1.2"/><rect x="530.1" y="540.9" width="1.2" height="1.2"/><rect x="549.1" y="540.9" width="1.2" height="1.2"/><rect x="568.2" y="540.9" width="1.2" height="1.2"/><rect x="587.3" y="540.9" width="1.2" height="1.2"/><rect x="606.4" y="540.9" width="1.2" height="1.2"/><rect x="625.5" y="540.9" width="1.2" height="1.2"/><rect x="644.5" y="540.9" width="1.2" height="1.2"/><rect x="663.6" y="540.9" width="1.2" height="1.2"/><rect x="682.7" y="540.9" width="1.2" height="1.2"/><rect x="701.8" y="540.9" width="1.2" height="1.2"/><rect x="720.9" y="540.9" width="1.2" height="1.2"/><rect x="739.9" y="540.9" width="1.2" height="1.2"/><rect x="759.0" y="540.9" width="1.2" height="1.2"/><rect x="778.1" y="540.9" width="1.2" height="1.2"/><rect x="797.2" y="540.9" width="1.2" height="1.2"/><rect x="816.3" y="540.9" width="1.2" height="1.2"/><rect x="835.3" y="540.9" width="1.2" height="1.2"/><rect x="854.4" y="540.9" width="1.2" height="1.2"/><rect x="873.5" y="540.9" width="1.2" height="1.2"/><rect x="892.6" y="540.9" width="1.2" height="1.2"/><rect x="911.7" y="540.9" width="1.2" height="1.2"/><rect x="930.7" y="540.9" width="1.2" height="1.2"/><rect x="949.8" y="540.9" width="1.2" height="1.2"/></g>
<path d="M492.5 1.5 V601.5 M15.5 301.5 H969.5" stroke="#7a7f8e" stroke-width="1.3" fill="none"/>
<path d="M34.6 1.5 V7.0 M34.6 601.5 V596.0 M53.7 1.5 V7.0 M53.7 601.5 V596.0 M72.7 1.5 V7.0 M72.7 601.5 V596.0 M91.8 1.5 V7.0 M91.8 601.5 V596.0 M110.9 1.5 V11.0 M110.9 601.5 V592.0 M130.0 1.5 V7.0 M130.0 601.5 V596.0 M149.1 1.5 V7.0 M149.1 601.5 V596.0 M168.1 1.5 V7.0 M168.1 601.5 V596.0 M187.2 1.5 V7.0 M187.2 601.5 V596.0 M206.3 1.5 V11.0 M206.3 601.5 V592.0 M225.4 1.5 V7.0 M225.4 601.5 V596.0 M244.5 1.5 V7.0 M244.5 601.5 V596.0 M263.5 1.5 V7.0 M263.5 601.5 V596.0 M282.6 1.5 V7.0 M282.6 601.5 V596.0 M301.7 1.5 V11.0 M301.7 601.5 V592.0 M320.8 1.5 V7.0 M320.8 601.5 V596.0 M339.9 1.5 V7.0 M339.9 601.5 V596.0 M358.9 1.5 V7.0 M358.9 601.5 V596.0 M378.0 1.5 V7.0 M378.0 601.5 V596.0 M397.1 1.5 V11.0 M397.1 601.5 V592.0 M416.2 1.5 V7.0 M416.2 601.5 V596.0 M435.3 1.5 V7.0 M435.3 601.5 V596.0 M454.3 1.5 V7.0 M454.3 601.5 V596.0 M473.4 1.5 V7.0 M473.4 601.5 V596.0 M492.5 1.5 V11.0 M492.5 601.5 V592.0 M511.6 1.5 V7.0 M511.6 601.5 V596.0 M530.7 1.5 V7.0 M530.7 601.5 V596.0 M549.7 1.5 V7.0 M549.7 601.5 V596.0 M568.8 1.5 V7.0 M568.8 601.5 V596.0 M587.9 1.5 V11.0 M587.9 601.5 V592.0 M607.0 1.5 V7.0 M607.0 601.5 V596.0 M626.1 1.5 V7.0 M626.1 601.5 V596.0 M645.1 1.5 V7.0 M645.1 601.5 V596.0 M664.2 1.5 V7.0 M664.2 601.5 V596.0 M683.3 1.5 V11.0 M683.3 601.5 V592.0 M702.4 1.5 V7.0 M702.4 601.5 V596.0 M721.5 1.5 V7.0 M721.5 601.5 V596.0 M740.5 1.5 V7.0 M740.5 601.5 V596.0 M759.6 1.5 V7.0 M759.6 601.5 V596.0 M778.7 1.5 V11.0 M778.7 601.5 V592.0 M797.8 1.5 V7.0 M797.8 601.5 V596.0 M816.9 1.5 V7.0 M816.9 601.5 V596.0 M835.9 1.5 V7.0 M835.9 601.5 V596.0 M855.0 1.5 V7.0 M855.0 601.5 V596.0 M874.1 1.5 V11.0 M874.1 601.5 V592.0 M893.2 1.5 V7.0 M893.2 601.5 V596.0 M912.3 1.5 V7.0 M912.3 601.5 V596.0 M931.3 1.5 V7.0 M931.3 601.5 V596.0 M950.4 1.5 V7.0 M950.4 601.5 V596.0 M15.5 13.5 H21.0 M968.0 13.5 H962.5 M15.5 25.5 H21.0 M968.0 25.5 H962.5 M15.5 37.5 H21.0 M968.0 37.5 H962.5 M15.5 49.5 H21.0 M968.0 49.5 H962.5 M15.5 61.5 H25.0 M968.0 61.5 H958.5 M15.5 73.5 H21.0 M968.0 73.5 H962.5 M15.5 85.5 H21.0 M968.0 85.5 H962.5 M15.5 97.5 H21.0 M968.0 97.5 H962.5 M15.5 109.5 H21.0 M968.0 109.5 H962.5 M15.5 121.5 H25.0 M968.0 121.5 H958.5 M15.5 133.5 H21.0 M968.0 133.5 H962.5 M15.5 145.5 H21.0 M968.0 145.5 H962.5 M15.5 157.5 H21.0 M968.0 157.5 H962.5 M15.5 169.5 H21.0 M968.0 169.5 H962.5 M15.5 181.5 H25.0 M968.0 181.5 H958.5 M15.5 193.5 H21.0 M968.0 193.5 H962.5 M15.5 205.5 H21.0 M968.0 205.5 H962.5 M15.5 217.5 H21.0 M968.0 217.5 H962.5 M15.5 229.5 H21.0 M968.0 229.5 H962.5 M15.5 241.5 H25.0 M968.0 241.5 H958.5 M15.5 253.5 H21.0 M968.0 253.5 H962.5 M15.5 265.5 H21.0 M968.0 265.5 H962.5 M15.5 277.5 H21.0 M968.0 277.5 H962.5 M15.5 289.5 H21.0 M968.0 289.5 H962.5 M15.5 301.5 H25.0 M968.0 301.5 H958.5 M15.5 313.5 H21.0 M968.0 313.5 H962.5 M15.5 325.5 H21.0 M968.0 325.5 H962.5 M15.5 337.5 H21.0 M968.0 337.5 H962.5 M15.5 349.5 H21.0 M968.0 349.5 H962.5 M15.5 361.5 H25.0 M968.0 361.5 H958.5 M15.5 373.5 H21.0 M968.0 373.5 H962.5 M15.5 385.5 H21.0 M968.0 385.5 H962.5 M15.5 397.5 H21.0 M968.0 397.5 H962.5 M15.5 409.5 H21.0 M968.0 409.5 H962.5 M15.5 421.5 H25.0 M968.0 421.5 H958.5 M15.5 433.5 H21.0 M968.0 433.5 H962.5 M15.5 445.5 H21.0 M968.0 445.5 H962.5 M15.5 457.5 H21.0 M968.0 457.5 H962.5 M15.5 469.5 H21.0 M968.0 469.5 H962.5 M15.5 481.5 H25.0 M968.0 481.5 H958.5 M15.5 493.5 H21.0 M968.0 493.5 H962.5 M15.5 505.5 H21.0 M968.0 505.5 H962.5 M15.5 517.5 H21.0 M968.0 517.5 H962.5 M15.5 529.5 H21.0 M968.0 529.5 H962.5 M15.5 541.5 H25.0 M968.0 541.5 H958.5 M15.5 553.5 H21.0 M968.0 553.5 H962.5 M15.5 565.5 H21.0 M968.0 565.5 H962.5 M15.5 577.5 H21.0 M968.0 577.5 H962.5 M15.5 589.5 H21.0 M968.0 589.5 H962.5 M34.6 298.5 V304.5 M53.7 298.5 V304.5 M72.7 298.5 V304.5 M91.8 298.5 V304.5 M110.9 298.5 V304.5 M130.0 298.5 V304.5 M149.1 298.5 V304.5 M168.1 298.5 V304.5 M187.2 298.5 V304.5 M206.3 298.5 V304.5 M225.4 298.5 V304.5 M244.5 298.5 V304.5 M263.5 298.5 V304.5 M282.6 298.5 V304.5 M301.7 298.5 V304.5 M320.8 298.5 V304.5 M339.9 298.5 V304.5 M358.9 298.5 V304.5 M378.0 298.5 V304.5 M397.1 298.5 V304.5 M416.2 298.5 V304.5 M435.3 298.5 V304.5 M454.3 298.5 V304.5 M473.4 298.5 V304.5 M492.5 298.5 V304.5 M511.6 298.5 V304.5 M530.7 298.5 V304.5 M549.7 298.5 V304.5 M568.8 298.5 V304.5 M587.9 298.5 V304.5 M607.0 298.5 V304.5 M626.1 298.5 V304.5 M645.1 298.5 V304.5 M664.2 298.5 V304.5 M683.3 298.5 V304.5 M702.4 298.5 V304.5 M721.5 298.5 V304.5 M740.5 298.5 V304.5 M759.6 298.5 V304.5 M778.7 298.5 V304.5 M797.8 298.5 V304.5 M816.9 298.5 V304.5 M835.9 298.5 V304.5 M855.0 298.5 V304.5 M874.1 298.5 V304.5 M893.2 298.5 V304.5 M912.3 298.5 V304.5 M931.3 298.5 V304.5 M950.4 298.5 V304.5 M489.5 13.5 H495.5 M489.5 25.5 H495.5 M489.5 37.5 H495.5 M489.5 49.5 H495.5 M489.5 61.5 H495.5 M489.5 73.5 H495.5 M489.5 85.5 H495.5 M489.5 97.5 H495.5 M489.5 109.5 H495.5 M489.5 121.5 H495.5 M489.5 133.5 H495.5 M489.5 145.5 H495.5 M489.5 157.5 H495.5 M489.5 169.5 H495.5 M489.5 181.5 H495.5 M489.5 193.5 H495.5 M489.5 205.5 H495.5 M489.5 217.5 H495.5 M489.5 229.5 H495.5 M489.5 241.5 H495.5 M489.5 253.5 H495.5 M489.5 265.5 H495.5 M489.5 277.5 H495.5 M489.5 289.5 H495.5 M489.5 301.5 H495.5 M489.5 313.5 H495.5 M489.5 325.5 H495.5 M489.5 337.5 H495.5 M489.5 349.5 H495.5 M489.5 361.5 H495.5 M489.5 373.5 H495.5 M489.5 385.5 H495.5 M489.5 397.5 H495.5 M489.5 409.5 H495.5 M489.5 421.5 H495.5 M489.5 433.5 H495.5 M489.5 445.5 H495.5 M489.5 457.5 H495.5 M489.5 469.5 H495.5 M489.5 481.5 H495.5 M489.5 493.5 H495.5 M489.5 505.5 H495.5 M489.5 517.5 H495.5 M489.5 529.5 H495.5 M489.5 541.5 H495.5 M489.5 553.5 H495.5 M489.5 565.5 H495.5 M489.5 577.5 H495.5 M489.5 589.5 H495.5" stroke="#646974" stroke-width="1" fill="none"/>
<rect x="15.2" y="1.8" width="0.9" height="599.4" fill="#3c4a78"/>
<!-- waveforms -->
<defs><clipPath id="pc"><rect x="15.6" y="1.8" width="953" height="599.4"/></clipPath></defs>
<g fill="none" stroke-width="1.7" stroke-linejoin="round" stroke-linecap="round" clip-path="url(#pc)">
<path d="M13.8 429.0 L15.4 429.0 L18.6 432.2 L22.9 436.5 L29.3 440.3 L35.8 441.8 L42.2 442.5 L49.7 441.2 L57.2 441.8 L61.5 444.6 L63.7 446.1 L66.9 444.0 L72.3 439.7 L78.7 435.4 L84.1 431.7 L86.2 436.5 L87.7 453.6 L89.4 483.7 L91.2 513.7 L92.7 535.2 L94.4 550.2 L95.9 548.0 L98.0 542.7 L101.2 539.5 L105.5 538.4 L109.8 535.2 L115.2 536.2 L121.6 537.3 L124.3 536.7 L129.7 535.6 L136.1 537.3 L143.6 538.0 L152.2 538.8 L158.6 537.7 L164.0 535.2 L168.3 529.8 L172.6 528.7 L175.4 526.6 L176.9 511.6 L178.4 490.1 L180.1 472.9 L182.3 457.9 L185.5 442.9 L188.7 435.4 L193.0 431.1 L198.4 430.5 L204.8 429.0 L206.4 429.0 L209.6 432.2 L213.9 436.5 L220.3 440.3 L226.8 441.8 L233.2 442.5 L240.7 441.2 L248.2 441.8 L252.5 444.6 L254.7 446.1 L257.9 444.0 L263.3 439.7 L269.7 435.4 L275.1 431.7 L277.2 436.5 L278.7 453.6 L280.4 483.7 L282.2 513.7 L283.7 535.2 L285.4 550.2 L286.9 548.0 L289.0 542.7 L292.2 539.5 L296.5 538.4 L300.8 535.2 L306.2 536.2 L312.6 537.3 L315.3 536.7 L320.7 535.6 L327.1 537.3 L334.6 538.0 L343.2 538.8 L349.6 537.7 L355.0 535.2 L359.3 529.8 L363.6 528.7 L366.4 526.6 L367.9 511.6 L369.4 490.1 L371.1 472.9 L373.3 457.9 L376.5 442.9 L379.7 435.4 L384.0 431.1 L389.4 430.5 L395.8 429.0 L397.4 429.0 L400.6 432.2 L404.9 436.5 L411.3 440.3 L417.8 441.8 L424.2 442.5 L431.7 441.2 L439.2 441.8 L443.5 444.6 L445.7 446.1 L448.9 444.0 L454.3 439.7 L460.7 435.4 L466.1 431.7 L468.2 436.5 L469.7 453.6 L471.4 483.7 L473.2 513.7 L474.7 535.2 L476.4 550.2 L477.9 548.0 L480.0 542.7 L483.2 539.5 L487.5 538.4 L491.8 535.2 L497.2 536.2 L503.6 537.3 L506.3 536.7 L511.7 535.6 L518.1 537.3 L525.6 538.0 L534.2 538.8 L540.6 537.7 L546.0 535.2 L550.3 529.8 L554.6 528.7 L557.4 526.6 L558.9 511.6 L560.4 490.1 L562.1 472.9 L564.3 457.9 L567.5 442.9 L570.7 435.4 L575.0 431.1 L580.4 430.5 L586.8 429.0 L588.4 429.0 L591.6 432.2 L595.9 436.5 L602.3 440.3 L608.8 441.8 L615.2 442.5 L622.7 441.2 L630.2 441.8 L634.5 444.6 L636.7 446.1 L639.9 444.0 L645.3 439.7 L651.7 435.4 L657.1 431.7 L659.2 436.5 L660.7 453.6 L662.4 483.7 L664.2 513.7 L665.7 535.2 L667.4 550.2 L668.9 548.0 L671.0 542.7 L674.2 539.5 L678.5 538.4 L682.8 535.2 L688.2 536.2 L694.6 537.3 L697.3 536.7 L702.7 535.6 L709.1 537.3 L716.6 538.0 L725.2 538.8 L731.6 537.7 L737.0 535.2 L741.3 529.8 L745.6 528.7 L748.4 526.6 L749.9 511.6 L751.4 490.1 L753.1 472.9 L755.3 457.9 L758.5 442.9 L761.7 435.4 L766.0 431.1 L771.4 430.5 L777.8 429.0 L779.4 429.0 L782.6 432.2 L786.9 436.5 L793.3 440.3 L799.8 441.8 L806.2 442.5 L813.7 441.2 L821.2 441.8 L825.5 444.6 L827.7 446.1 L830.9 444.0 L836.3 439.7 L842.7 435.4 L848.1 431.7 L850.2 436.5 L851.7 453.6 L853.4 483.7 L855.2 513.7 L856.7 535.2 L858.4 550.2 L859.9 548.0 L862.0 542.7 L865.2 539.5 L869.5 538.4 L873.8 535.2 L879.2 536.2 L885.6 537.3 L888.3 536.7 L893.7 535.6 L900.1 537.3 L907.6 538.0 L916.2 538.8 L922.6 537.7 L928.0 535.2 L932.3 529.8 L936.6 528.7 L939.4 526.6 L940.9 511.6 L942.4 490.1 L944.1 472.9 L946.3 457.9 L949.5 442.9 L952.7 435.4 L957.0 431.1 L962.4 430.5 L968.8 429.0 L970.4 429.0" stroke="#48dc46"/>
<path d="M15.4 376.7 L19.7 377.5 L24.6 375.0 L31.9 371.9 L39.2 369.4 L46.5 367.0 L55.0 367.0 L57.5 360.9 L59.9 346.3 L62.3 322.0 L64.0 300.1 L66.0 275.8 L68.4 256.3 L70.9 246.6 L74.5 241.3 L80.6 240.5 L83.0 236.9 L86.7 230.8 L91.5 224.7 L96.4 224.7 L102.5 227.2 L109.8 228.4 L117.1 230.8 L123.2 233.2 L130.0 232.5 L141.9 232.5 L151.6 230.8 L158.9 230.8 L165.0 231.5 L167.5 235.7 L169.9 244.2 L172.3 261.2 L174.0 280.7 L176.0 300.1 L177.9 319.6 L180.4 339.0 L183.3 350.0 L186.9 354.8 L191.8 356.0 L196.7 360.9 L201.5 369.4 L206.4 376.7 L210.7 377.5 L215.6 375.0 L222.9 371.9 L230.2 369.4 L237.5 367.0 L246.0 367.0 L248.5 360.9 L250.9 346.3 L253.3 322.0 L255.0 300.1 L257.0 275.8 L259.4 256.3 L261.9 246.6 L265.5 241.3 L271.6 240.5 L274.0 236.9 L277.7 230.8 L282.5 224.7 L287.4 224.7 L293.5 227.2 L300.8 228.4 L308.1 230.8 L314.2 233.2 L321.0 232.5 L332.9 232.5 L342.6 230.8 L349.9 230.8 L356.0 231.5 L358.5 235.7 L360.9 244.2 L363.3 261.2 L365.0 280.7 L367.0 300.1 L368.9 319.6 L371.4 339.0 L374.3 350.0 L377.9 354.8 L382.8 356.0 L387.7 360.9 L392.5 369.4 L397.4 376.7 L401.7 377.5 L406.6 375.0 L413.9 371.9 L421.2 369.4 L428.5 367.0 L437.0 367.0 L439.5 360.9 L441.9 346.3 L444.3 322.0 L446.0 300.1 L448.0 275.8 L450.4 256.3 L452.9 246.6 L456.5 241.3 L462.6 240.5 L465.0 236.9 L468.7 230.8 L473.5 224.7 L478.4 224.7 L484.5 227.2 L491.8 228.4 L499.1 230.8 L505.2 233.2 L512.0 232.5 L523.9 232.5 L533.6 230.8 L540.9 230.8 L547.0 231.5 L549.5 235.7 L551.9 244.2 L554.3 261.2 L556.0 280.7 L558.0 300.1 L559.9 319.6 L562.4 339.0 L565.3 350.0 L568.9 354.8 L573.8 356.0 L578.7 360.9 L583.5 369.4 L588.4 376.7 L592.7 377.5 L597.6 375.0 L604.9 371.9 L612.2 369.4 L619.5 367.0 L628.0 367.0 L630.5 360.9 L632.9 346.3 L635.3 322.0 L637.0 300.1 L639.0 275.8 L641.4 256.3 L643.9 246.6 L647.5 241.3 L653.6 240.5 L656.0 236.9 L659.7 230.8 L664.5 224.7 L669.4 224.7 L675.5 227.2 L682.8 228.4 L690.1 230.8 L696.2 233.2 L703.0 232.5 L714.9 232.5 L724.6 230.8 L731.9 230.8 L738.0 231.5 L740.5 235.7 L742.9 244.2 L745.3 261.2 L747.0 280.7 L749.0 300.1 L750.9 319.6 L753.4 339.0 L756.3 350.0 L759.9 354.8 L764.8 356.0 L769.7 360.9 L774.5 369.4 L779.4 376.7 L783.7 377.5 L788.6 375.0 L795.9 371.9 L803.2 369.4 L810.5 367.0 L819.0 367.0 L821.5 360.9 L823.9 346.3 L826.3 322.0 L828.0 300.1 L830.0 275.8 L832.4 256.3 L834.9 246.6 L838.5 241.3 L844.6 240.5 L847.0 236.9 L850.7 230.8 L855.5 224.7 L860.4 224.7 L866.5 227.2 L873.8 228.4 L881.1 230.8 L887.2 233.2 L894.0 232.5 L905.9 232.5 L915.6 230.8 L922.9 230.8 L929.0 231.5 L931.5 235.7 L933.9 244.2 L936.3 261.2 L938.0 280.7 L940.0 300.1 L941.9 319.6 L944.4 339.0 L947.3 350.0 L950.9 354.8 L955.8 356.0 L960.7 360.9 L965.5 369.4 L970.4 376.7" stroke="#c8283a"/>
<path d="M13.8 153.0 L16.0 145.5 L18.6 133.7 L21.8 120.8 L25.0 111.2 L29.3 101.5 L33.6 95.7 L37.9 92.5 L42.2 89.7 L48.6 85.0 L52.9 77.9 L57.2 72.5 L61.5 70.0 L66.9 70.8 L72.3 73.6 L78.7 77.9 L81.9 82.2 L85.1 86.9 L88.4 85.4 L92.7 84.3 L95.9 79.0 L98.0 75.8 L101.2 75.8 L104.0 79.0 L106.6 88.6 L109.2 99.4 L112.0 114.4 L115.2 127.3 L119.1 141.2 L123.8 149.8 L128.6 157.3 L132.9 162.7 L139.3 168.0 L143.6 172.3 L147.9 177.7 L152.2 183.5 L157.6 184.8 L164.0 184.8 L167.2 180.9 L171.5 178.3 L176.9 173.4 L182.3 168.0 L186.6 168.5 L190.8 173.4 L195.1 177.3 L198.4 176.6 L201.6 167.0 L204.8 153.0 L207.0 145.5 L209.6 133.7 L212.8 120.8 L216.0 111.2 L220.3 101.5 L224.6 95.7 L228.9 92.5 L233.2 89.7 L239.6 85.0 L243.9 77.9 L248.2 72.5 L252.5 70.0 L257.9 70.8 L263.3 73.6 L269.7 77.9 L272.9 82.2 L276.1 86.9 L279.4 85.4 L283.7 84.3 L286.9 79.0 L289.0 75.8 L292.2 75.8 L295.0 79.0 L297.6 88.6 L300.2 99.4 L303.0 114.4 L306.2 127.3 L310.1 141.2 L314.8 149.8 L319.6 157.3 L323.9 162.7 L330.3 168.0 L334.6 172.3 L338.9 177.7 L343.2 183.5 L348.6 184.8 L355.0 184.8 L358.2 180.9 L362.5 178.3 L367.9 173.4 L373.3 168.0 L377.6 168.5 L381.8 173.4 L386.1 177.3 L389.4 176.6 L392.6 167.0 L395.8 153.0 L398.0 145.5 L400.6 133.7 L403.8 120.8 L407.0 111.2 L411.3 101.5 L415.6 95.7 L419.9 92.5 L424.2 89.7 L430.6 85.0 L434.9 77.9 L439.2 72.5 L443.5 70.0 L448.9 70.8 L454.3 73.6 L460.7 77.9 L463.9 82.2 L467.1 86.9 L470.4 85.4 L474.7 84.3 L477.9 79.0 L480.0 75.8 L483.2 75.8 L486.0 79.0 L488.6 88.6 L491.2 99.4 L494.0 114.4 L497.2 127.3 L501.1 141.2 L505.8 149.8 L510.6 157.3 L514.9 162.7 L521.3 168.0 L525.6 172.3 L529.9 177.7 L534.2 183.5 L539.6 184.8 L546.0 184.8 L549.2 180.9 L553.5 178.3 L558.9 173.4 L564.3 168.0 L568.6 168.5 L572.8 173.4 L577.1 177.3 L580.4 176.6 L583.6 167.0 L586.8 153.0 L589.0 145.5 L591.6 133.7 L594.8 120.8 L598.0 111.2 L602.3 101.5 L606.6 95.7 L610.9 92.5 L615.2 89.7 L621.6 85.0 L625.9 77.9 L630.2 72.5 L634.5 70.0 L639.9 70.8 L645.3 73.6 L651.7 77.9 L654.9 82.2 L658.1 86.9 L661.4 85.4 L665.7 84.3 L668.9 79.0 L671.0 75.8 L674.2 75.8 L677.0 79.0 L679.6 88.6 L682.2 99.4 L685.0 114.4 L688.2 127.3 L692.1 141.2 L696.8 149.8 L701.6 157.3 L705.9 162.7 L712.3 168.0 L716.6 172.3 L720.9 177.7 L725.2 183.5 L730.6 184.8 L737.0 184.8 L740.2 180.9 L744.5 178.3 L749.9 173.4 L755.3 168.0 L759.6 168.5 L763.8 173.4 L768.1 177.3 L771.4 176.6 L774.6 167.0 L777.8 153.0 L780.0 145.5 L782.6 133.7 L785.8 120.8 L789.0 111.2 L793.3 101.5 L797.6 95.7 L801.9 92.5 L806.2 89.7 L812.6 85.0 L816.9 77.9 L821.2 72.5 L825.5 70.0 L830.9 70.8 L836.3 73.6 L842.7 77.9 L845.9 82.2 L849.1 86.9 L852.4 85.4 L856.7 84.3 L859.9 79.0 L862.0 75.8 L865.2 75.8 L868.0 79.0 L870.6 88.6 L873.2 99.4 L876.0 114.4 L879.2 127.3 L883.1 141.2 L887.8 149.8 L892.6 157.3 L896.9 162.7 L903.3 168.0 L907.6 172.3 L911.9 177.7 L916.2 183.5 L921.6 184.8 L928.0 184.8 L931.2 180.9 L935.5 178.3 L940.9 173.4 L946.3 168.0 L950.6 168.5 L954.8 173.4 L959.1 177.3 L962.4 176.6 L965.6 167.0 L968.8 153.0 L971.0 145.5" stroke="#2820b8"/>
</g>
<!-- labels -->
<g font-family="Liberation Sans, sans-serif" font-size="11" fill="#1e1e1e">
<text x="93.9" y="112.9">D</text>
<text x="144.6" y="285.9" textLength="22" lengthAdjust="spacingAndGlyphs">VOD</text>
<text x="68.8" y="481.7">R</text>
</g>
<!-- markers -->
<polygon points="208,1.5 217.3,1.5 212.6,10.8" fill="#1414e6"/>
<path d="M211.3 3.6 H213.9 M212.6 3.6 V6.4" stroke="#9aa0ff" stroke-width="0.8" fill="none"/>
<polygon points="949.3,124 957,119.5 957,128.5" fill="#1414e6"/>
<rect x="956" y="123.2" width="12" height="1.6" fill="#2a2ae0"/>
<g>
<circle cx="10" cy="181.9" r="9.1" fill="#1414e6"/>
<rect x="18" y="181" width="6" height="2" fill="#1414e6"/>
<polygon points="22.3,177.2 28.9,182 22.3,186.8" fill="#1414e6"/>
<path d="M8.4 179.6 L10.3 177.8 V185.6" fill="none" stroke="#fff" stroke-width="1.4"/>
</g>
<g>
<circle cx="9.8" cy="304" r="8.6" fill="#d2222e" stroke="#5a2a2a" stroke-width="0.8"/>
<rect x="18" y="303" width="6" height="2" fill="#d2222e"/>
<polygon points="22,299.7 28.6,304 22,308.3" fill="#d2222e"/>
<text x="9.8" y="308" font-size="11" fill="#fff" text-anchor="middle" font-family="Liberation Sans, sans-serif">2</text>
</g>
<g>
<circle cx="10" cy="538" r="8.6" fill="#46e646" stroke="#333" stroke-width="0.9"/>
<rect x="18" y="537" width="6" height="2" fill="#46e646"/>
<polygon points="22,533.8 28.6,538 22,542.2" fill="#46e646"/>
</g>

<!-- bottom boxes -->
<g fill="none" stroke="#4a4a4a" stroke-width="1.2">
<rect x="20.8" y="610.7" width="266.7" height="66" rx="5"/>
<rect x="565" y="610.4" width="175.7" height="34.2" rx="5"/>
<rect x="745.2" y="610" width="219.2" height="87" rx="5"/>
</g>
<rect x="750" y="697.6" width="210" height="1.4" fill="#8c8c8c"/>
<rect x="28.3" y="618.0" width="30.6" height="10.0" rx="5.0" fill="#2222dd" stroke="#333" stroke-width="0.6"/><text x="43.6" y="625.8" font-size="8.5" font-weight="bold" fill="#fff" text-anchor="middle" font-family="Liberation Sans, sans-serif">C1</text>
<rect x="28.3" y="638.0" width="30.6" height="10.0" rx="5.0" fill="#d0202e" stroke="#333" stroke-width="0.6"/><text x="43.6" y="645.8" font-size="8.5" font-weight="bold" fill="#fff" text-anchor="middle" font-family="Liberation Sans, sans-serif">C2</text>
<rect x="28.3" y="658.0" width="30.6" height="10.0" rx="5.0" fill="#44dd44" stroke="#333" stroke-width="0.6"/><text x="43.6" y="665.8" font-size="8.5" font-weight="bold" fill="#fff" text-anchor="middle" font-family="Liberation Sans, sans-serif">C3</text>
<rect x="586.7" y="618.2" width="29.2" height="10.8" rx="5.4" fill="#2222dd" stroke="#333" stroke-width="0.6"/><text x="601.3" y="626.8" font-size="8.5" font-weight="bold" fill="#fff" text-anchor="middle" font-family="Liberation Sans, sans-serif">C1</text>
<rect x="569.3" y="616.3" width="14.3" height="14" fill="#1e1e24" stroke="#4a6ad0" stroke-width="1"/>
<text x="571" y="628" font-size="11" font-weight="bold" fill="#fff" font-family="Liberation Sans, sans-serif">A</text>
<rect x="580.3" y="618.4" width="1.1" height="2.2" fill="#bfe8bf"/>
<path d="M620.6 628.4 H624.2 L628.6 618.4 Q629.2 617.2 630.6 617.2 H633.3" fill="none" stroke="#111" stroke-width="2"/>
<rect x="946.7" y="636.3" width="3.5" height="12" fill="#1a1ac0"/><circle cx="948.4" cy="649.3" r="3.1" fill="#1a1ac0"/>
<g font-family="Liberation Sans, sans-serif" font-weight="bold" font-size="11.5" fill="#1a1a1a">
<text x="64.1" y="626.0" textLength="43.7" lengthAdjust="spacingAndGlyphs">3.0V/div</text>
<text x="173.9" y="626.0" textLength="21.0" lengthAdjust="spacingAndGlyphs">50&#937;</text>
<text x="205.3" y="623.4" textLength="4.3" lengthAdjust="spacingAndGlyphs" font-size="9">B</text>
<text x="210.4" y="629.0" textLength="8.2" lengthAdjust="spacingAndGlyphs" font-size="10">W</text>
<text x="211.5" y="621.0" textLength="3.0" lengthAdjust="spacingAndGlyphs" font-size="9" font-weight="normal">&#8242;</text>
<text x="219.1" y="626.0" textLength="27.9" lengthAdjust="spacingAndGlyphs">:1.0G</text>
<text x="64.1" y="646.0" textLength="43.7" lengthAdjust="spacingAndGlyphs">3.0V/div</text>
<text x="173.9" y="646.0" textLength="21.0" lengthAdjust="spacingAndGlyphs">50&#937;</text>
<text x="205.3" y="643.4" textLength="4.3" lengthAdjust="spacingAndGlyphs" font-size="9">B</text>
<text x="210.4" y="649.0" textLength="8.2" lengthAdjust="spacingAndGlyphs" font-size="10">W</text>
<text x="211.5" y="641.0" textLength="3.0" lengthAdjust="spacingAndGlyphs" font-size="9" font-weight="normal">&#8242;</text>
<text x="219.1" y="646.0" textLength="27.9" lengthAdjust="spacingAndGlyphs">:1.0G</text>
<text x="64.1" y="666.0" textLength="43.7" lengthAdjust="spacingAndGlyphs">3.0V/div</text>
<text x="173.9" y="666.0" textLength="21.0" lengthAdjust="spacingAndGlyphs">50&#937;</text>
<text x="205.3" y="663.4" textLength="4.3" lengthAdjust="spacingAndGlyphs" font-size="9">B</text>
<text x="210.4" y="669.0" textLength="8.2" lengthAdjust="spacingAndGlyphs" font-size="10">W</text>
<text x="211.5" y="661.0" textLength="3.0" lengthAdjust="spacingAndGlyphs" font-size="9" font-weight="normal">&#8242;</text>
<text x="219.1" y="666.0" textLength="27.9" lengthAdjust="spacingAndGlyphs">:1.0G</text>
<text x="636.0" y="626.1" textLength="29.8" lengthAdjust="spacingAndGlyphs">2.88V</text>
<text x="572.4" y="642.6" textLength="52.0" lengthAdjust="spacingAndGlyphs">Triggered</text>
<text x="694.8" y="642.6" textLength="26.4" lengthAdjust="spacingAndGlyphs">Auto</text>
<text x="752.7" y="625.6" textLength="55.5" lengthAdjust="spacingAndGlyphs">20.0ns/div</text>
<text x="814.3" y="625.6" textLength="42.2" lengthAdjust="spacingAndGlyphs">5.0GS/s</text>
<text x="895.5" y="625.6" textLength="57.2" lengthAdjust="spacingAndGlyphs">200.0ps/pt</text>
<text x="752.7" y="646.0" textLength="21.4" lengthAdjust="spacingAndGlyphs" fill="#e28cba">Run</text>
<text x="823.9" y="645.8" textLength="62.9" lengthAdjust="spacingAndGlyphs">Average:16</text>
<text x="752.7" y="665.9" textLength="64.7" lengthAdjust="spacingAndGlyphs">15 088 acqs</text>
<text x="885.9" y="665.5" textLength="41.3" lengthAdjust="spacingAndGlyphs">RL:1.0k</text>
<text x="752.4" y="686.1" textLength="28.6" lengthAdjust="spacingAndGlyphs">Cons</text>
<text x="792.2" y="686.1" textLength="75.1" lengthAdjust="spacingAndGlyphs">April 26, 2018</text>
<text x="911.7" y="685.6" textLength="46.0" lengthAdjust="spacingAndGlyphs" fill="#2f64d4">20:07:49</text>
</g>
</svg>
</body></html>
